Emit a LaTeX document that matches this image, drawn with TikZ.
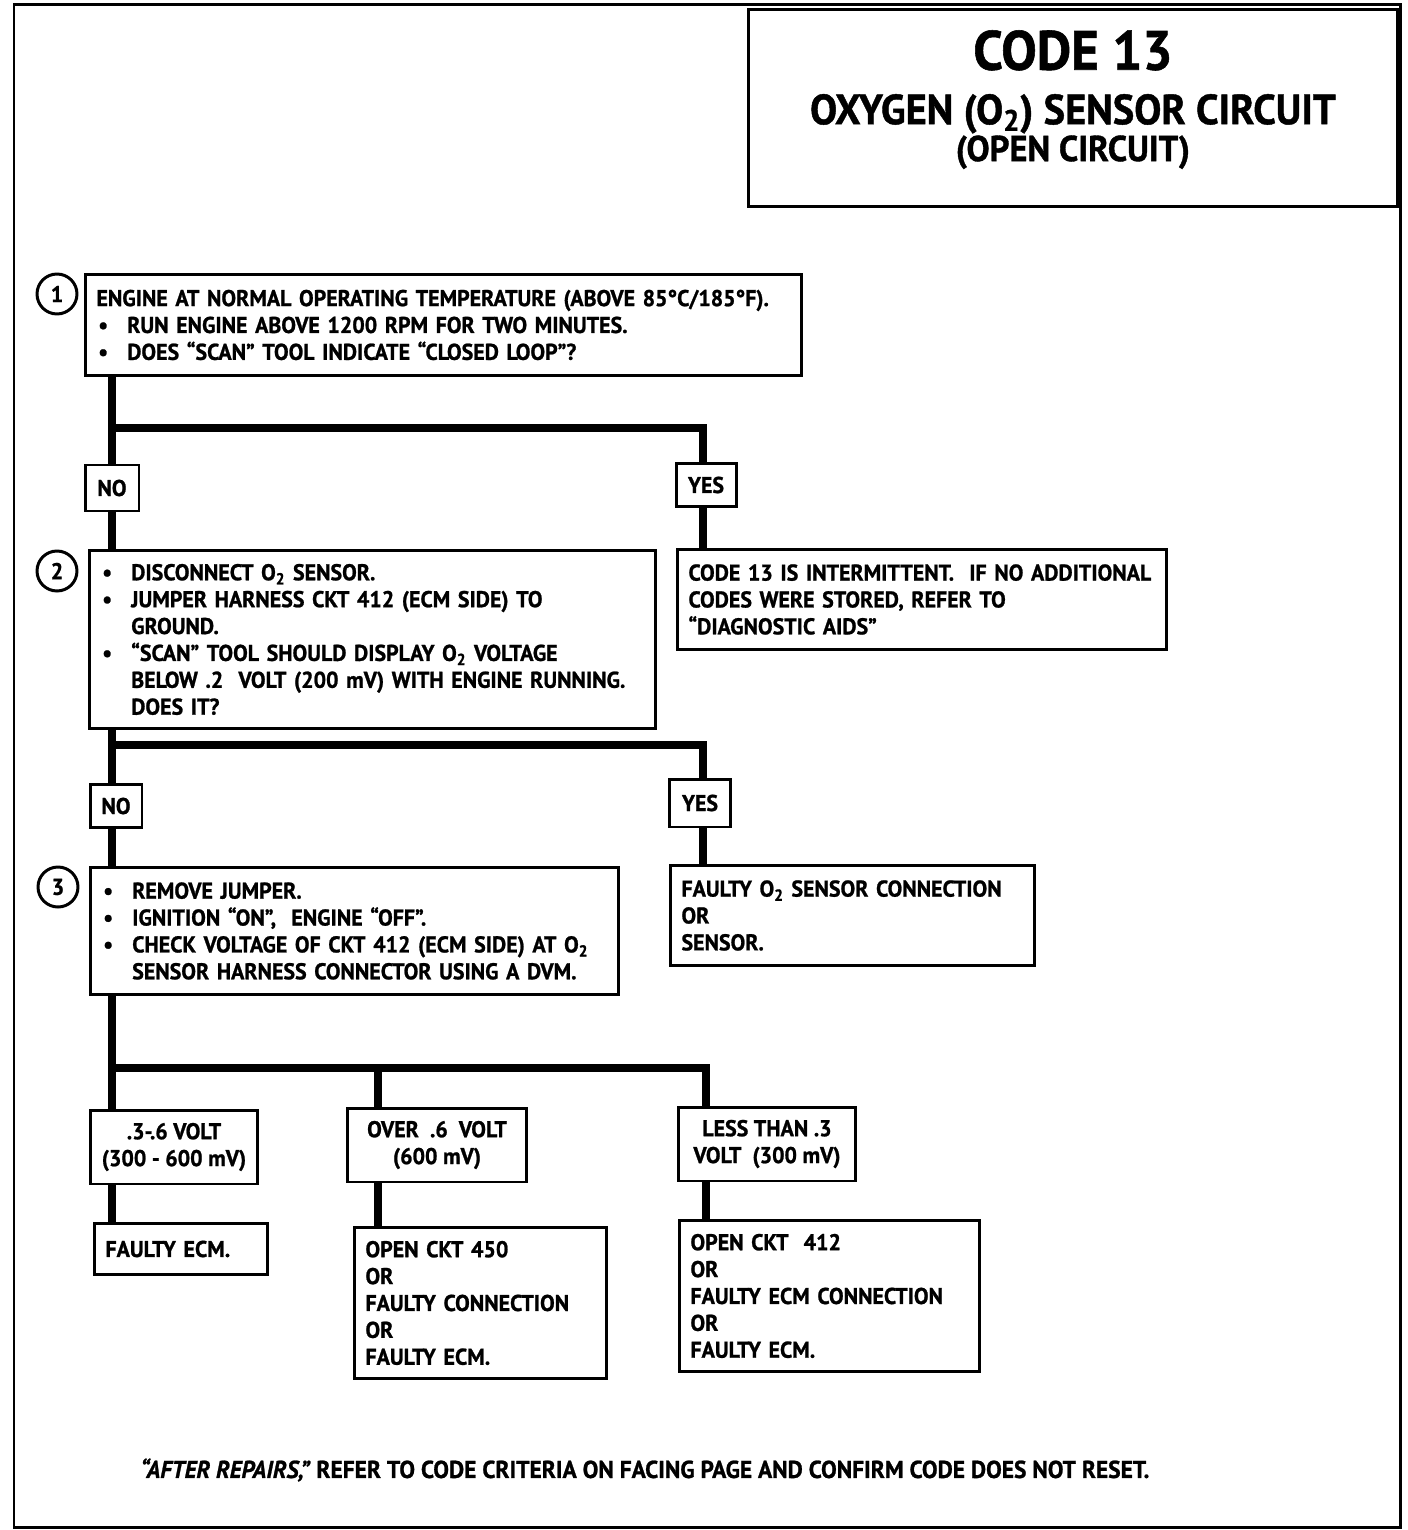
\documentclass[tikz,border=0pt]{standalone}
\usepackage{fontspec}
\setmainfont{PT Sans}[FakeStretch=0.96, BoldFeatures={FakeBold=1}, BoldItalicFeatures={FakeBold=1}]
\usepackage{tikz}
\newcommand{\bodyfont}{\bfseries\fontsize{13}{15.3}\selectfont}
\newcommand{\bul}{\makebox[17.5pt][l]{\hspace{1pt}\textbullet}}
\newcommand{\ind}{\hspace*{17.5pt}}
\newcommand{\otwo}{O\textsubscript{2}}
\tikzset{
  chart box/.style={draw, line width=1.7pt, rectangle, inner xsep=0.22cm, inner ysep=0pt, anchor=north west, align=left, font=\bodyfont},
  chart tag/.style={draw, line width=1.7pt, rectangle, inner sep=0pt, align=center, font=\bodyfont},
  chart step/.style={circle, draw, line width=1.7pt, inner sep=0pt, minimum size=0.8cm, font=\bfseries\fontsize{13}{13}\selectfont},
  chart flow/.style={line width=4.5pt},
  chart frame/.style={line width=1.7pt}
}

\begin{document}
\begin{tikzpicture}[x=0.02cm, y=-0.02cm]
  \useasboundingbox (0,0) rectangle (1408,1530);
  \draw[chart frame] (14,5) rectangle (1400,1527);

  % title
  \node[chart tag, anchor=north west, minimum width=12.98cm, minimum height=3.94cm,
        font=\bfseries\fontsize{24}{21}\selectfont] (title) at (747,8)
    {{\fontsize{31.5}{31.5}\selectfont CODE 13}\\[10pt]
     OXYGEN (\otwo) SENSOR CIRCUIT\\
     {\fontsize{20.5}{18}\selectfont (OPEN CIRCUIT)}\\[-7pt]};

  % steps
  \node[chart step] (n1) at (57,294) {1};
  \node[chart step] (n2) at (57,571) {2};
  \node[chart step] (n3) at (58,887) {3};

  \node[chart box, text width=13.88cm, minimum height=2.02cm] (step1) at (84,273)
    {ENGINE AT NORMAL OPERATING TEMPERATURE (ABOVE 85°C/185°F).\\
     \bul RUN ENGINE ABOVE 1200 RPM FOR TWO MINUTES.\\
     \bul DOES ``SCAN'' TOOL INDICATE ``CLOSED LOOP''?};
  \node[chart box, text width=10.88cm, minimum height=3.56cm] (step2) at (88,549)
    {\bul DISCONNECT \otwo{} SENSOR.\\
     \bul JUMPER HARNESS CKT 412 (ECM SIDE) TO\\
     \ind GROUND.\\
     \bul ``SCAN'' TOOL SHOULD DISPLAY \otwo{} VOLTAGE\\
     \ind BELOW .2~~VOLT (200 mV) WITH ENGINE RUNNING.\\
     \ind DOES IT?};
  \node[chart box, text width=10.12cm, minimum height=2.54cm] (step3) at (89,866)
    {\bul REMOVE JUMPER.\\
     \bul IGNITION ``ON'',~~ENGINE ``OFF''.\\
     \bul CHECK VOLTAGE OF CKT 412 (ECM SIDE) AT \otwo\\
     \ind SENSOR HARNESS CONNECTOR USING A DVM.};

  % answers
  \node[chart tag, minimum width=1.08cm, minimum height=0.92cm] (no1) at (112,488) {NO};
  \node[chart tag, minimum width=1.2cm, minimum height=0.86cm] (yes1) at (706,485) {YES};
  \node[chart tag, minimum width=1.04cm, minimum height=0.86cm] (no2) at (116,806) {NO};
  \node[chart tag, minimum width=1.22cm, minimum height=0.96cm] (yes2) at (700,803) {YES};
  \node[chart tag, minimum width=3.34cm, minimum height=1.48cm] (va) at (174,1147)
    {.3-.6 VOLT\\(300 - 600 mV)};
  \node[chart tag, minimum width=3.58cm, minimum height=1.48cm] (vb) at (437,1145)
    {OVER~~.6~~VOLT\\(600 mV)};
  \node[chart tag, minimum width=3.54cm, minimum height=1.48cm] (vc) at (767,1144)
    {LESS THAN .3\\VOLT~~(300 mV)};

  % results
  \node[chart box, text width=9.34cm, minimum height=2.0cm] (ryes1) at (676,548)
    {CODE 13 IS INTERMITTENT.~~IF NO ADDITIONAL\\
     CODES WERE STORED, REFER TO\\
     ``DIAGNOSTIC AIDS''};
  \node[chart box, text width=6.84cm, minimum height=2.0cm] (ryes2) at (669,864)
    {FAULTY \otwo{} SENSOR CONNECTION\\
     OR\\
     SENSOR.};
  \node[chart box, text width=3.02cm, minimum height=1.02cm] (ra) at (93,1222)
    {FAULTY ECM.};
  \node[chart box, text width=4.6cm, minimum height=3.02cm] (rb) at (353,1226)
    {OPEN CKT 450\\OR\\FAULTY CONNECTION\\OR\\FAULTY ECM.};
  \node[chart box, text width=5.56cm, minimum height=3.02cm] (rc) at (678,1219)
    {OPEN CKT~~412\\OR\\FAULTY ECM CONNECTION\\OR\\FAULTY ECM.};

  \node[font=\bfseries\fontsize{13.9}{15}\selectfont] (note) at (645,1470)
    {\textit{``AFTER REPAIRS,''} REFER TO CODE CRITERIA ON FACING PAGE AND CONFIRM CODE DOES NOT RESET.};

  % connectors
  \coordinate (j1) at (112,428);
  \coordinate (k1) at (703,428);
  \draw[chart flow] (step1.south -| j1) -- (no1.north -| j1);
  \draw[chart flow] (no1.south -| j1) -- (step2.north -| j1);
  \draw[chart flow] (j1) -- (k1) -- (k1 |- yes1.north);
  \draw[chart flow] (yes1.south -| k1) -- (ryes1.north -| k1);

  \coordinate (j2) at (112,745);
  \coordinate (k2) at (703,745);
  \draw[chart flow] (step2.south -| j2) -- (no2.north -| j2);
  \draw[chart flow] (no2.south -| j2) -- (step3.north -| j2);
  \draw[chart flow] (j2) -- (k2) -- (k2 |- yes2.north);
  \draw[chart flow] (yes2.south -| k2) -- (ryes2.north -| k2);

  \coordinate (j3) at (112,1068);
  \coordinate (kb) at (378,1068);
  \coordinate (kc) at (706,1068);
  \draw[chart flow] (step3.south -| j3) -- (va.north -| j3);
  \draw[chart flow] (j3) -- (kc) -- (kc |- vc.north);
  \draw[chart flow] (kb) -- (kb |- vb.north);
  \draw[chart flow] (va.south -| j3) -- (ra.north -| j3);
  \draw[chart flow] (vb.south -| kb) -- (rb.north -| kb);
  \draw[chart flow] (vc.south -| kc) -- (rc.north -| kc);
\end{tikzpicture}
\end{document}
